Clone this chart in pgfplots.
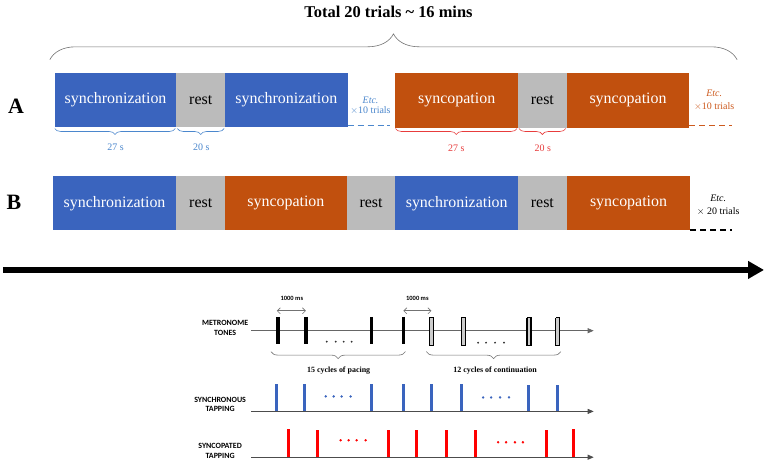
\documentclass[border=0pt]{standalone}
\usepackage{pgfplots}
\pgfplotsset{compat=1.18}
\usepackage{fontspec}
\setmainfont{Liberation Serif}
\newfontfamily\tnr{Liberation Serif}
\newfontfamily\calib{Carlito}
\usetikzlibrary{decorations.pathreplacing,arrows.meta}
\definecolor{bblue}{RGB}{58,100,190}
\definecolor{borange}{RGB}{193,80,14}
\definecolor{bgray}{RGB}{187,187,187}
\definecolor{lblue}{RGB}{75,135,205}
\definecolor{lred}{RGB}{232,60,60}
\definecolor{eorange}{RGB}{205,90,30}
\definecolor{tblue}{RGB}{58,100,190}
\definecolor{tred}{RGB}{255,0,0}
\newcommand{\blk}[5]{\addplot[draw=none,fill=#5] coordinates {(#1,#2) (#3,#2) (#3,#4) (#1,#4)};}
\newcommand{\fs}[1]{\tnr\fontsize{#1}{#1}\selectfont}
\newcommand{\fc}[1]{\calib\fontsize{#1}{#1}\selectfont\bfseries}
\begin{document}
\begin{tikzpicture}
\begin{axis}[width=767pt,height=463pt,scale only axis,
  xmin=0,xmax=767,ymin=0,ymax=463,y dir=reverse,
  axis lines=none,clip=false,axis background/.style={fill=white}]
% ---- title and big brace
\node[font=\fs{16.5}\bfseries] at (axis cs:390,12) {Total 20 trials \textasciitilde{} 16 mins};
\addplot[draw=black!55,line width=0.6pt,decorate,decoration={brace,amplitude=26pt,aspect=0.5}] coordinates {(50,60) (740,60)};
% ---- row A
\node[font=\fs{22}\bfseries] at (axis cs:16,107) {A};
\blk{55}{73}{177}{127}{bblue}
\blk{177}{73}{226}{127}{bgray}
\blk{226}{73}{349}{127}{bblue}
\blk{397}{73}{520}{128}{borange}
\blk{520}{73}{569}{128}{bgray}
\blk{569}{73}{692}{128}{borange}
\node[font=\fs{16},white] at (axis cs:116,100) {synchronization};
\node[font=\fs{16}] at (axis cs:201.5,100) {rest};
\node[font=\fs{16},white] at (axis cs:287.5,100) {synchronization};
\node[font=\fs{16},white] at (axis cs:458.5,100) {syncopation};
\node[font=\fs{16}] at (axis cs:544.5,100) {rest};
\node[font=\fs{16},white] at (axis cs:630.5,100) {syncopation};
\node[font=\fs{10}\itshape,lblue] at (axis cs:372,101) {Etc.};
\node[font=\fs{10},lblue] at (axis cs:372,111) {$\times$10 trials};
\node[font=\fs{10}\itshape,eorange] at (axis cs:717,94) {Etc.};
\node[font=\fs{10},eorange] at (axis cs:717,107) {$\times$10 trials};
\addplot[lblue,line width=1.5pt,dash pattern=on 6pt off 4pt] coordinates {(349,126) (392,126)};
\addplot[eorange,line width=1.5pt,dash pattern=on 6pt off 4pt] coordinates {(692,126) (735,126)};
\addplot[lblue,line width=0.6pt,decorate,decoration={brace,mirror,amplitude=6pt}] coordinates {(55,129) (176,129)};
\addplot[lblue,line width=0.6pt,decorate,decoration={brace,mirror,amplitude=6pt}] coordinates {(178,129) (225,129)};
\addplot[lred,line width=0.6pt,decorate,decoration={brace,mirror,amplitude=6pt}] coordinates {(397,129) (519,129)};
\addplot[lred,line width=0.6pt,decorate,decoration={brace,mirror,amplitude=6pt}] coordinates {(521,129) (568,129)};
\node[font=\fs{10},lblue] at (axis cs:116,148) {27 s};
\node[font=\fs{10},lblue] at (axis cs:202,148) {20 s};
\node[font=\fs{10},lred] at (axis cs:458,149) {27 s};
\node[font=\fs{10},lred] at (axis cs:545,149) {20 s};
% ---- row B
\node[font=\fs{22}\bfseries] at (axis cs:14,203) {B};
\blk{53}{177}{177}{231}{bblue}
\blk{177}{177}{226}{231}{bgray}
\blk{226}{177}{348}{231}{borange}
\blk{348}{177}{397}{231}{bgray}
\blk{397}{177}{520}{231}{bblue}
\blk{520}{177}{569}{231}{bgray}
\blk{569}{177}{693}{231}{borange}
\node[font=\fs{16},white] at (axis cs:115,204) {synchronization};
\node[font=\fs{16}] at (axis cs:201.5,204) {rest};
\node[font=\fs{16},white] at (axis cs:287,204) {syncopation};
\node[font=\fs{16}] at (axis cs:372.5,204) {rest};
\node[font=\fs{16},white] at (axis cs:458.5,204) {synchronization};
\node[font=\fs{16}] at (axis cs:544.5,204) {rest};
\node[font=\fs{16},white] at (axis cs:631,204) {syncopation};
\node[font=\fs{10}\itshape] at (axis cs:721,199) {Etc.};
\node[font=\fs{10}] at (axis cs:721,212) {$\times$ 20 trials};
\addplot[black,line width=1.5pt,dash pattern=on 6pt off 4pt] coordinates {(693,231) (735,231)};
% ---- big arrow
\addplot[black,line width=6pt,-{Triangle[length=16pt,width=17pt]}] coordinates {(3,271) (767,271)};
% ---- metronome
\node[font=\fc{8},align=center] at (axis cs:226,329) {METRONOME\\[1.5pt]TONES};
\addplot[black!60,line width=0.8pt,-{Triangle[length=6pt,width=5pt]}] coordinates {(252,332) (596,332)};
\addplot[black,line width=3.5pt] coordinates {(279,318) (279,345)};
\addplot[black,line width=3.5pt] coordinates {(307,318) (307,345)};
\addplot[black,line width=3.5pt] coordinates {(373,318) (373,345)};
\addplot[black,line width=3.5pt] coordinates {(405,318) (405,345)};
\addplot[draw=black,fill=black!20,line width=1.3pt] coordinates {(431,319) (435,319) (435,347) (431,347) (431,319)};
\addplot[draw=black,fill=black!20,line width=1.3pt] coordinates {(463,319) (467,319) (467,347) (463,347) (463,319)};
\addplot[draw=black,fill=black!20,line width=1.3pt] coordinates {(529,319) (533,319) (533,347) (529,347) (529,319)};
\addplot[draw=black,fill=black!20,line width=1.3pt] coordinates {(558,319) (562,319) (562,347) (558,347) (558,319)};
\addplot[only marks,mark=*,mark size=0.7pt,black!80] coordinates {(328,343) (337,343) (345,343) (353,343)};
\addplot[only marks,mark=*,mark size=0.7pt,black!80] coordinates {(480,344) (488,344) (497,344) (506,344)};
\addplot[black!55,line width=0.6pt,{Straight Barb[length=3pt]}-{Straight Barb[length=3pt]}] coordinates {(278,312) (307,312)};
\addplot[black!55,line width=0.6pt,{Straight Barb[length=3pt]}-{Straight Barb[length=3pt]}] coordinates {(405,312) (433,312)};
\node[font=\fc{6.5}] at (axis cs:293,300) {1000 ms};
\node[font=\fc{6.5}] at (axis cs:419,300) {1000 ms};
\addplot[black!55,line width=0.6pt,decorate,decoration={brace,mirror,amplitude=7pt}] coordinates {(272,353) (407,353)};
\addplot[black!55,line width=0.6pt,decorate,decoration={brace,mirror,amplitude=7pt}] coordinates {(428,353) (563,353)};
\node[font=\fs{8}\bfseries] at (axis cs:340,372) {15 cycles of pacing};
\node[font=\fs{8}\bfseries] at (axis cs:497,372) {12 cycles of continuation};
% ---- synchronous tapping
\node[font=\fc{8},align=center] at (axis cs:221,406) {SYNCHRONOUS\\[1.5pt]TAPPING};
\addplot[black!70,line width=0.8pt,-{Triangle[length=6pt,width=5pt]}] coordinates {(252,413) (596,413)};
\addplot[tblue,line width=3pt] coordinates {(278,386) (278,413)};
\addplot[tblue,line width=3pt] coordinates {(306,386) (306,413)};
\addplot[tblue,line width=3pt] coordinates {(373,386) (373,413)};
\addplot[tblue,line width=3pt] coordinates {(405,386) (405,413)};
\addplot[tblue,line width=3pt] coordinates {(433,386) (433,413)};
\addplot[tblue,line width=3pt] coordinates {(463,386) (463,413)};
\addplot[tblue,line width=3pt] coordinates {(531,387) (531,413)};
\addplot[tblue,line width=3pt] coordinates {(560,387) (560,413)};
\addplot[only marks,mark=*,mark size=1pt,tblue] coordinates {(327,398) (335,398) (343,398) (352,398)};
\addplot[only marks,mark=*,mark size=1pt,tblue] coordinates {(485,399) (493,399) (502,399) (511,399)};
% ---- syncopated tapping
\node[font=\fc{8},align=center] at (axis cs:221,452.5) {SYNCOPATED\\[1.5pt]TAPPING};
\addplot[black!70,line width=0.8pt,-{Triangle[length=6pt,width=5pt]}] coordinates {(252,459) (596,459)};
\addplot[tred,line width=3pt] coordinates {(290,431) (290,459)};
\addplot[tred,line width=3pt] coordinates {(319,432) (319,459)};
\addplot[tred,line width=3pt] coordinates {(390,432) (390,459)};
\addplot[tred,line width=3pt] coordinates {(418,432) (418,459)};
\addplot[tred,line width=3pt] coordinates {(448,432) (448,459)};
\addplot[tred,line width=3pt] coordinates {(477,432) (477,459)};
\addplot[tred,line width=3pt] coordinates {(549,432) (549,459)};
\addplot[tred,line width=3pt] coordinates {(576,431) (576,459)};
\addplot[only marks,mark=*,mark size=1pt,tred] coordinates {(342,442) (350,442) (358,442) (367,442)};
\addplot[only marks,mark=*,mark size=1pt,tred] coordinates {(500,444) (508,444) (517,444) (525,444)};
\end{axis}
\end{tikzpicture}
\end{document}
